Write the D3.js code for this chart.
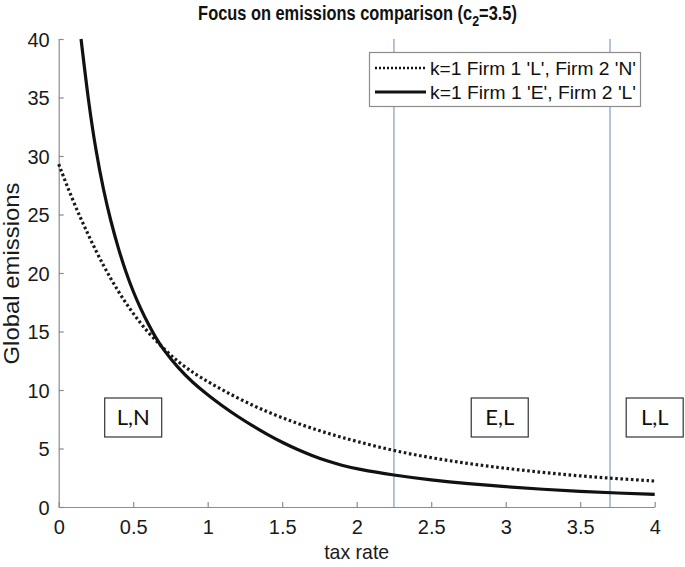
<!DOCTYPE html>
<html>
<head>
<meta charset="utf-8">
<script src="https://cdn.jsdelivr.net/npm/d3@7"></script>
<style>
  html, body { margin: 0; padding: 0; background: #fff; }
  svg { display: block; }
  text { font-family: "Liberation Sans", Arial, Helvetica, sans-serif; }
</style>
</head>
<body>
<div id="chart"></div>
<script>
// ---- data ----
const taxLN = [0, 0.1, 0.2, 0.3, 0.4, 0.5, 0.6, 0.7, 0.8, 0.9, 1.0, 1.2, 1.4, 1.6, 1.8, 2.0, 2.25, 2.5, 2.75, 3.0, 3.25, 3.5, 3.75, 4.0];
const emissionsLN = [29.3, 26.0, 23.2, 20.6, 18.4, 16.5, 14.9, 13.6, 12.4, 11.5, 10.7, 9.3, 8.1, 7.15, 6.3, 5.6, 4.8, 4.2, 3.7, 3.3, 2.95, 2.65, 2.42, 2.22];

const taxEL = [0.15, 0.2, 0.25, 0.3, 0.35, 0.4, 0.45, 0.5, 0.55, 0.6, 0.65, 0.7, 0.8, 0.9, 1.0, 1.1, 1.2, 1.3, 1.4, 1.5, 1.6, 1.7, 1.8, 1.9, 2.0, 2.25, 2.5, 2.75, 3.0, 3.25, 3.5, 3.75, 4.0];
const emissionsEL = [40, 34.6, 30.4, 27.1, 24.4, 22.1, 20.1, 18.4, 16.95, 15.65, 14.5, 13.48, 11.9, 10.62, 9.58, 8.62, 7.74, 6.94, 6.2, 5.52, 4.92, 4.39, 3.93, 3.56, 3.25, 2.71, 2.3, 1.98, 1.73, 1.51, 1.33, 1.19, 1.08];

const boundaries = [2.25, 3.7];
const regionLabels = ["L,N", "E,L", "L,L"];
const regionLabelTax = [0.5, 2.96, 4.0];
const regionLabelY = 7.65;

const xTicks = [0, 0.5, 1, 1.5, 2, 2.5, 3, 3.5, 4];
const yTicks = [0, 5, 10, 15, 20, 25, 30, 35, 40];

const seriesNames = ["k=1 Firm 1 'L', Firm 2 'N'", "k=1 Firm 1 'E', Firm 2 'L'"];

// ---- layout ----
const W = 685, H = 567;
const mLeft = 58.7, mRight = 654.7, mTop = 39, mBottom = 507;

const svg = d3.select("#chart").append("svg").attr("width", W).attr("height", H);

const x = d3.scaleLinear().domain([0, 4]).range([mLeft, mRight]);
const y = d3.scaleLinear().domain([0, 40]).range([mBottom, mTop]);

// boundary lines
svg.selectAll("line.bound").data(boundaries).enter().append("line")
  .attr("class", "bound")
  .attr("x1", d => x(d)).attr("x2", d => x(d))
  .attr("y1", y(40)).attr("y2", y(0))
  .attr("stroke", "#7f9dbd").attr("stroke-width", 1.2);

// axes
const axisColor = "#8c8c8c";
const xAxis = svg.append("g").attr("transform", `translate(0,${mBottom})`)
  .call(d3.axisBottom(x).tickValues(xTicks).tickFormat(d3.format("~g")).tickSizeInner(-5).tickSizeOuter(0).tickPadding(9));
const yAxis = svg.append("g").attr("transform", `translate(${mLeft},0)`)
  .call(d3.axisLeft(y).tickValues(yTicks).tickSizeInner(-5).tickSizeOuter(0).tickPadding(9));
[xAxis, yAxis].forEach(g => {
  g.select(".domain").attr("stroke", axisColor).attr("stroke-width", 1.2);
  g.selectAll(".tick line").attr("stroke", axisColor).attr("stroke-width", 1.2);
  g.selectAll(".tick text").attr("fill", "#1a1a1a").style("font-size", "20px")
    .style("font-family", "'Liberation Sans', Arial, sans-serif");
});
xAxis.selectAll(".tick text").attr("dy", "0.9em");
yAxis.selectAll(".tick text").attr("dy", "0.36em");

// curves
const lineFn = d3.line().curve(d3.curveBasis);
svg.append("path")
  .datum(taxLN.map((t, i) => [x(t), y(emissionsLN[i])]))
  .attr("d", lineFn).attr("fill", "none")
  .attr("stroke", "#1a1a1a").attr("stroke-width", 3.2)
  .attr("stroke-dasharray", "2.6,2.6");
svg.append("path")
  .datum(taxEL.map((t, i) => [x(t), y(emissionsEL[i])]))
  .attr("d", lineFn).attr("fill", "none")
  .attr("stroke", "#111").attr("stroke-width", 3.2);

// region label boxes
const boxW = 57, boxH = 39;
const rg = svg.selectAll("g.region").data(regionLabels).enter().append("g").attr("class", "region");
rg.append("rect")
  .attr("x", (d, i) => x(regionLabelTax[i]) - boxW / 2)
  .attr("y", y(regionLabelY) - boxH / 2)
  .attr("width", boxW).attr("height", boxH)
  .attr("fill", "#fff").attr("stroke", "#333").attr("stroke-width", 1.2);
rg.append("text")
  .attr("x", (d, i) => x(regionLabelTax[i]))
  .attr("y", y(regionLabelY) + 8)
  .attr("text-anchor", "middle")
  .style("font-family", "Lato, 'Liberation Sans', sans-serif")
  .style("font-size", "22px").attr("fill", "#111")
  .text(d => d);

// legend
const lg = svg.append("g");
lg.append("rect").attr("x", 369.5).attr("y", 52.5).attr("width", 271).attr("height", 54)
  .attr("fill", "#fff").attr("stroke", "#8c8c8c").attr("stroke-width", 1.2);
const legRows = [68, 92];
seriesNames.forEach((name, i) => {
  lg.append("line").attr("x1", 375).attr("x2", 426).attr("y1", legRows[i]).attr("y2", legRows[i])
    .attr("stroke", "#111").attr("stroke-width", i === 0 ? 2.4 : 2.8)
    .attr("stroke-dasharray", i === 0 ? "2,2" : null);
  lg.append("text").attr("x", 430).attr("y", legRows[i] + 6.5)
    .style("font-size", "19px").attr("fill", "#111")
    .attr("textLength", 206).attr("lengthAdjust", "spacingAndGlyphs")
    .text(name);
});

// axis labels
svg.append("text").attr("x", (mLeft + mRight) / 2).attr("y", 559)
  .attr("text-anchor", "middle").style("font-size", "21px").attr("fill", "#1a1a1a")
  .attr("textLength", 65).attr("lengthAdjust", "spacingAndGlyphs").text("tax rate");
svg.append("text").attr("transform", `translate(18.5,273.5) rotate(-90)`)
  .attr("text-anchor", "middle").style("font-size", "22px").attr("fill", "#1a1a1a")
  .attr("textLength", 182).attr("lengthAdjust", "spacingAndGlyphs")
  .text("Global emissions");

// title (slightly condensed, as in the reference)
const title = svg.append("text").attr("transform", "translate(357.5,19.5) scale(0.8,1)")
  .attr("text-anchor", "middle").style("font-size", "20.5px").style("font-weight", "bold").attr("fill", "#111");
title.append("tspan").text("Focus on emissions comparison (c");
title.append("tspan").attr("dy", 6).style("font-size", "15.5px").text("2");
title.append("tspan").attr("dy", -6).text("=3.5)");
</script>
</body>
</html>
